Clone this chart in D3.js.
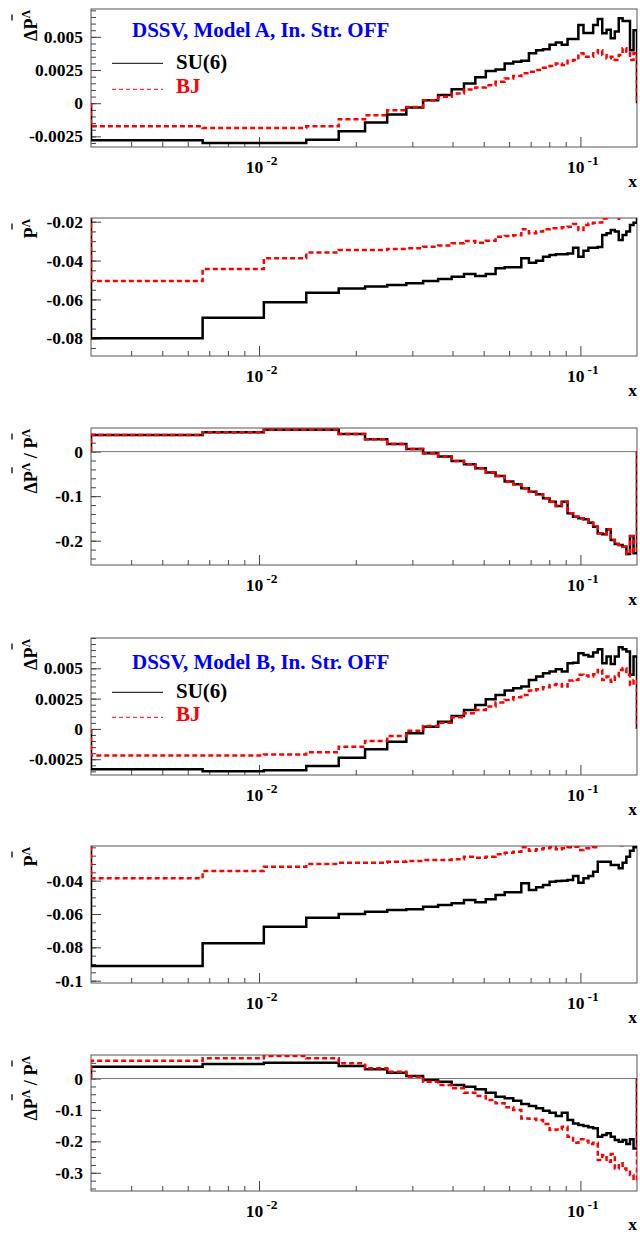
<!DOCTYPE html>
<html>
<head>
<meta charset="utf-8">
<script src="https://cdn.jsdelivr.net/npm/d3@7"></script>
<style>
  body { margin: 0; background: #fff; }
  text { font-family: "Liberation Serif", "Times New Roman", serif; font-weight: bold; }
</style>
</head>
<body>
<svg id="chart" width="640" height="1234"></svg>
<script>
// bin edges in x (40 equal bins)
const binEdges = [0.003, 0.006675, 0.01035, 0.014025, 0.0177, 0.021375, 0.02505, 0.028725, 0.0324, 0.036075,
  0.03975, 0.043425, 0.0471, 0.050775, 0.05445, 0.058125, 0.0618, 0.065475, 0.06915, 0.072825,
  0.0765, 0.080175, 0.08385, 0.087525, 0.0912, 0.094875, 0.09855, 0.102225, 0.1059, 0.109575,
  0.11325, 0.116925, 0.1206, 0.124275, 0.12795, 0.131625, 0.1353, 0.138975, 0.14265, 0.146325, 0.15];

// Model A
const dPA_su6 = [-0.0028, -0.0030, -0.0030, -0.00275, -0.00212, -0.00146, -0.00086, -0.00033, 0.00023, 0.00061,
  0.00106, 0.00149, 0.00195, 0.00242, 0.00255, 0.0030, 0.00313, 0.0032, 0.00377, 0.0040,
  0.00407, 0.0044, 0.00457, 0.0044, 0.00483, 0.00483, 0.0059, 0.0053, 0.0053, 0.0059,
  0.00634, 0.00528, 0.00553, 0.0049, 0.0054, 0.0064, 0.0062, 0.0062, 0.0040, 0.0055];
const dPA_bj = [-0.00174, -0.00187, -0.00187, -0.00174, -0.00121, -0.00091, -0.00053, -0.00028, 0.00023, 0.00048,
  0.00073, 0.00104, 0.00119, 0.00136, 0.00161, 0.00187, 0.00205, 0.00225, 0.00237, 0.0025,
  0.00267, 0.0028, 0.003, 0.00288, 0.0032, 0.00326, 0.00376, 0.0035, 0.0035, 0.00376,
  0.004, 0.00364, 0.00339, 0.0035, 0.00326, 0.00364, 0.00414, 0.00389, 0.00326, 0.00376];
const PA_su6 = [-0.08, -0.0694, -0.0615, -0.0565, -0.0544, -0.0534, -0.0526, -0.0517, -0.0505, -0.0495,
  -0.0483, -0.0469, -0.0479, -0.0469, -0.0440, -0.0435, -0.0435, -0.0388, -0.0411, -0.0401,
  -0.038, -0.0371, -0.0368, -0.0368, -0.0363, -0.0334, -0.038, -0.0349, -0.0334, -0.0334,
  -0.033, -0.0268, -0.026, -0.0243, -0.0251, -0.0294, -0.0268, -0.0251, -0.0217, -0.0205];
const PA_bj = [-0.0505, -0.0443, -0.0388, -0.0359, -0.0346, -0.0346, -0.034, -0.0337, -0.0329, -0.0323,
  -0.0311, -0.0299, -0.0308, -0.0298, -0.0277, -0.0274, -0.027, -0.0239, -0.026, -0.0251,
  -0.0239, -0.0234, -0.0234, -0.0229, -0.0226, -0.0212, -0.0243, -0.0217, -0.0209, -0.0205,
  -0.0204, -0.0183, -0.0165, -0.0155, -0.016, -0.0185, -0.017, -0.016, -0.0138, -0.013];
const rA_su6 = [0.0375, 0.0436, 0.0488, 0.0488, 0.0398, 0.0278, 0.0173, 0.006, -0.0037, -0.0112,
  -0.0209, -0.0284, -0.0374, -0.0471, -0.0546, -0.0674, -0.0733, -0.0823, -0.0899, -0.0958,
  -0.1048, -0.1124, -0.122, -0.1124, -0.1385, -0.146, -0.1497, -0.152, -0.16, -0.1685,
  -0.1834, -0.1857, -0.1744, -0.1984, -0.2074, -0.2097, -0.2135, -0.2299, -0.1894, -0.2283];
const rA_bj = [0.0375, 0.0436, 0.0488, 0.0488, 0.0398, 0.0278, 0.0173, 0.006, -0.0037, -0.0112,
  -0.0209, -0.0284, -0.0374, -0.0471, -0.0546, -0.0674, -0.0733, -0.0823, -0.0899, -0.0958,
  -0.1048, -0.1124, -0.122, -0.1124, -0.1385, -0.146, -0.1497, -0.152, -0.16, -0.1685,
  -0.1834, -0.1857, -0.1744, -0.1984, -0.2074, -0.2097, -0.2135, -0.2299, -0.19, -0.225];

// Model B
const dPB_su6 = [-0.00333, -0.0035, -0.0034, -0.00305, -0.00237, -0.00168, -0.00105, -0.00036, 0.00019, 0.0006,
  0.00107, 0.00157, 0.00198, 0.00245, 0.0028, 0.00316, 0.00336, 0.00349, 0.00404, 0.00432,
  0.0046, 0.00473, 0.00493, 0.00473, 0.00542, 0.00545, 0.00625, 0.0061, 0.00597, 0.0063,
  0.00658, 0.00542, 0.00597, 0.00536, 0.00597, 0.00674, 0.00658, 0.00638, 0.00446, 0.00597];
const dPB_bj = [-0.0022, -0.0022, -0.0021, -0.00192, -0.00146, -0.00099, -0.00058, -0.00014, 0.00025, 0.00052,
  0.00096, 0.0013, 0.00157, 0.00184, 0.00217, 0.00239, 0.00261, 0.0028, 0.00316, 0.00327,
  0.00344, 0.00363, 0.0037, 0.00349, 0.00399, 0.00404, 0.00446, 0.0044, 0.00432, 0.0045,
  0.00487, 0.00404, 0.00432, 0.0039, 0.00432, 0.00487, 0.005, 0.00446, 0.00363, 0.00404];
const PB_su6 = [-0.0912, -0.0776, -0.0676, -0.0622, -0.06, -0.0586, -0.0576, -0.0572, -0.0556, -0.0546,
  -0.0536, -0.0516, -0.053, -0.0512, -0.0486, -0.047, -0.047, -0.0416, -0.0456, -0.044,
  -0.0426, -0.0406, -0.0402, -0.04, -0.0396, -0.0372, -0.0412, -0.0386, -0.0372, -0.0346,
  -0.0286, -0.0286, -0.0286, -0.0306, -0.0306, -0.0326, -0.0292, -0.0256, -0.022, -0.02];
const PB_bj = [-0.0386, -0.0342, -0.0316, -0.03, -0.0292, -0.0292, -0.0286, -0.0282, -0.0276, -0.0276,
  -0.0272, -0.0256, -0.0262, -0.0256, -0.0242, -0.0232, -0.0226, -0.02, -0.022, -0.0212,
  -0.0206, -0.02, -0.0212, -0.0206, -0.02, -0.0196, -0.0216, -0.0206, -0.0206, -0.02,
  -0.018, -0.018, -0.018, -0.0185, -0.0185, -0.0188, -0.018, -0.017, -0.016, -0.015];
const rB_su6 = [0.0376, 0.0462, 0.0503, 0.0503, 0.0398, 0.0293, 0.0185, 0.008, -0.0048, -0.0102,
  -0.0207, -0.0261, -0.0344, -0.0452, -0.058, -0.063, -0.0707, -0.0812, -0.0876, -0.0949,
  -0.1025, -0.1089, -0.1194, -0.1089, -0.1322, -0.1427, -0.148, -0.1513, -0.1554, -0.1586,
  -0.1854, -0.18, -0.1745, -0.1854, -0.1959, -0.2013, -0.1959, -0.2086, -0.1936, -0.2223];
const rB_bj = [0.0567, 0.0643, 0.0717, 0.0643, 0.0484, 0.0325, 0.0217, 0.0057, -0.0102, -0.0207,
  -0.0312, -0.0452, -0.0557, -0.0685, -0.079, -0.0917, -0.1003, -0.1268, -0.128, -0.1322,
  -0.1449, -0.164, -0.1618, -0.1535, -0.1854, -0.2045, -0.1936, -0.198, -0.2086, -0.2045,
  -0.2596, -0.2436, -0.265, -0.2404, -0.2866, -0.27, -0.2866, -0.2968, -0.3073, -0.3232];

// axis ticks
const xMajorTicks = [0.01, 0.1];
const xMajorExp = ['-2', '-1'];
const xMinorTicks = [0.004, 0.005, 0.006, 0.007, 0.008, 0.009, 0.02, 0.03, 0.04, 0.05, 0.06, 0.07, 0.08, 0.09];
const yTicksDP = [-0.0025, 0, 0.0025, 0.005];
const yLabelsDP = ['-0.0025', '0', '0.0025', '0.005'];
const yTicksPA = [-0.08, -0.06, -0.04, -0.02];
const yLabelsPA = ['-0.08', '-0.06', '-0.04', '-0.02'];
const yTicksPB = [-0.1, -0.08, -0.06, -0.04];
const yLabelsPB = ['-0.1', '-0.08', '-0.06', '-0.04'];
const yTicksRA = [-0.2, -0.1, 0];
const yLabelsRA = ['-0.2', '-0.1', '0'];
const yTicksRB = [-0.3, -0.2, -0.1, 0];
const yLabelsRB = ['-0.3', '-0.2', '-0.1', '0'];

const titleDP = [{ s: 'Δ' }, { s: 'P', bar: true }, { s: 'Λ', sup: true }];
const titleP = [{ s: 'P', bar: true }, { s: 'Λ', sup: true }];
const titleR = [{ s: 'Δ' }, { s: 'P', bar: true }, { s: 'Λ', sup: true }, { s: ' / ' }, { s: 'P', bar: true }, { s: 'Λ', sup: true }];

const frameL = 91, frameR = 637;
const red = '#ff0000', blue = '#0000ff';

const panels = [
  { top: 9, h: 138, dom: [-0.0033, 0.0071], ticks: yTicksDP, labels: yLabelsDP, minor: 0.0005, title: titleDP,
    su6: dPA_su6, bj: dPA_bj, legend: { text: 'DSSV, Model A, In. Str. OFF', ty: 37, y1: 63.3, y2: 89.3 } },
  { top: 218, h: 138, dom: [-0.0891, -0.0181], ticks: yTicksPA, labels: yLabelsPA, minor: 0.005, title: titleP,
    su6: PA_su6, bj: PA_bj },
  { top: 428, h: 137, dom: [-0.2546, 0.053], ticks: yTicksRA, labels: yLabelsRA, minor: 0.02, title: titleR,
    su6: rA_su6, bj: rA_bj, zero: true },
  { top: 638, h: 137, dom: [-0.0038, 0.0075], ticks: yTicksDP, labels: yLabelsDP, minor: 0.0005, title: titleDP,
    su6: dPB_su6, bj: dPB_bj, legend: { text: 'DSSV, Model B, In. Str. OFF', ty: 669.3, y1: 692.3, y2: 717.3 } },
  { top: 846, h: 137, dom: [-0.1014, -0.0192], ticks: yTicksPB, labels: yLabelsPB, minor: 0.005, title: titleP,
    su6: PB_su6, bj: PB_bj },
  { top: 1055, h: 136, dom: [-0.358, 0.075], ticks: yTicksRB, labels: yLabelsRB, minor: 0.025, title: titleR,
    su6: rB_su6, bj: rB_bj, zero: true }
];

const svg = d3.select('#chart');
const x = d3.scaleLog().domain([binEdges[0], binEdges[binEdges.length - 1]]).range([frameL, frameR]);

// histogram outline: rises from 0 at the first edge, drops back to 0 at the last
const histPoints = vals => {
  const pts = [[binEdges[0], 0]];
  vals.forEach((v, i) => {
    pts.push([binEdges[i], v]);
    pts.push([binEdges[i + 1], v]);
  });
  pts.push([binEdges[binEdges.length - 1], 0]);
  return pts;
};

panels.forEach((p, pi) => {
  const T = p.top, B = p.top + p.h;
  const y = d3.scaleLinear().domain(p.dom).range([B, T]);
  const g = svg.append('g');

  g.append('clipPath').attr('id', 'clip' + pi)
    .append('rect').attr('x', frameL).attr('y', T).attr('width', frameR - frameL).attr('height', p.h);

  // minor y ticks
  const minorVals = d3.range(Math.ceil(p.dom[0] / p.minor), Math.floor(p.dom[1] / p.minor) + 1).map(k => k * p.minor);
  g.append('g').attr('transform', `translate(${frameL},0)`)
    .call(d3.axisLeft(y).tickValues(minorVals).tickSize(-5).tickFormat(''))
    .call(a => a.select('.domain').remove())
    .selectAll('line').attr('stroke', '#444');

  // major y ticks
  const ya = g.append('g').attr('transform', `translate(${frameL},0)`)
    .call(d3.axisLeft(y).tickValues(p.ticks).tickSize(-10).tickPadding(8).tickFormat((d, i) => p.labels[i]));
  ya.select('.domain').remove();
  ya.selectAll('line').attr('stroke', '#444');
  ya.selectAll('text').attr('font-family', null).attr('font-size', null)
    .style('font-size', '17.5px').attr('fill', '#000');

  // x ticks
  g.append('g').attr('transform', `translate(0,${B})`)
    .call(d3.axisBottom(x).tickValues(xMinorTicks).tickSize(-5).tickFormat(''))
    .call(a => a.select('.domain').remove())
    .selectAll('line').attr('stroke', '#444');
  g.append('g').attr('transform', `translate(0,${B})`)
    .call(d3.axisBottom(x).tickValues(xMajorTicks).tickSize(-10).tickFormat(''))
    .call(a => a.select('.domain').remove())
    .selectAll('line').attr('stroke', '#444');

  xMajorTicks.forEach((v, i) => {
    const t = g.append('text').attr('x', x(v) + 2.5).attr('y', B + 26)
      .attr('text-anchor', 'middle').style('font-size', '17.5px');
    t.append('tspan').text('10');
    t.append('tspan').attr('dx', 3).attr('dy', -8).style('font-size', '13.5px').text(xMajorExp[i]);
  });

  g.append('text').attr('x', frameR).attr('y', Math.min(B + 40, 1230)).attr('text-anchor', 'end')
    .style('font-size', '17.5px').text('x');

  // frame
  g.append('rect').attr('x', frameL).attr('y', T).attr('width', frameR - frameL).attr('height', p.h)
    .attr('fill', 'none').attr('stroke', '#555').attr('stroke-width', 1);

  if (p.zero) {
    g.append('line').attr('x1', frameL).attr('x2', frameR).attr('y1', y(0)).attr('y2', y(0))
      .attr('stroke', '#777').attr('stroke-width', 1);
  }

  const line = d3.line().x(d => x(d[0])).y(d => y(d[1]));
  const plot = g.append('g').attr('clip-path', `url(#clip${pi})`);
  plot.append('path').attr('d', line(histPoints(p.su6)))
    .attr('fill', 'none').attr('stroke', '#000').attr('stroke-width', 2.5);
  plot.append('path').attr('d', line(histPoints(p.bj)))
    .attr('fill', 'none').attr('stroke', red).attr('stroke-width', 2.5).attr('stroke-dasharray', '5,3');

  // y title (rotated), bar drawn over P
  const tg = g.append('g').attr('transform', `translate(37,${T + 1}) rotate(-90)`);
  const tt = tg.append('text').attr('text-anchor', 'end').style('font-size', '18px');
  let prevSup = false;
  p.title.forEach(part => {
    const ts = tt.append('tspan').text(part.s);
    if (part.sup) { ts.attr('dy', -7).style('font-size', '12px'); prevSup = true; }
    else if (prevSup) { ts.attr('dy', 7); prevSup = false; }
  });
  let idx = 0;
  p.title.forEach(part => {
    if (part.bar) {
      const e = tt.node().getEndPositionOfChar(idx);
      tg.append('line').attr('x1', e.x - 2).attr('x2', e.x + 4).attr('y1', -25).attr('y2', -25)
        .attr('stroke', '#000').attr('stroke-width', 1.3);
    }
    idx += part.s.length;
  });

  if (p.legend) {
    const L = p.legend;
    g.append('text').attr('x', 132).attr('y', L.ty).style('font-size', '21px').attr('fill', blue).text(L.text);
    g.append('line').attr('x1', 112).attr('x2', 163).attr('y1', L.y1).attr('y2', L.y1)
      .attr('stroke', '#000').attr('stroke-width', 1);
    g.append('text').attr('x', 176).attr('y', L.y1 + 5.5).style('font-size', '21px').text('SU(6)');
    g.append('line').attr('x1', 112).attr('x2', 163).attr('y1', L.y2).attr('y2', L.y2)
      .attr('stroke', red).attr('stroke-width', 1).attr('stroke-dasharray', '4,3');
    g.append('text').attr('x', 176).attr('y', L.y2 + 3.5).style('font-size', '21px').attr('fill', red).text('BJ');
  }
});
</script>
</body>
</html>
